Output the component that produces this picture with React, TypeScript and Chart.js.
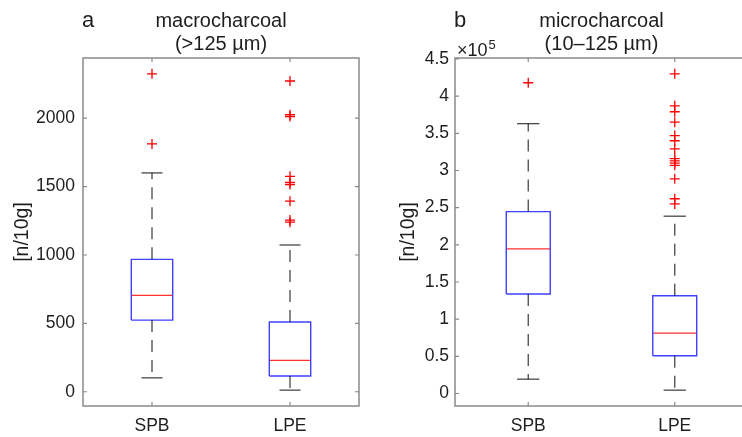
import { useEffect, useRef } from 'react';
import { Chart, registerables } from 'chart.js';

Chart.register(...registerables);

// ---------- data ----------
const categories = ['SPB', 'LPE'];

// panel a: macrocharcoal (>125 µm), n/10g
const macroWhiskerLow = [102, 12];
const macroQ1 = [524, 115];
const macroMedian = [705, 230];
const macroQ3 = [968, 510];
const macroWhiskerHigh = [1600, 1073];
const macroOutliersSPB = [2324, 1812];
const macroOutliersLPE = [2272, 2025, 2012, 1575, 1530, 1515, 1393, 1255, 1240];
const macroTicks = [0, 500, 1000, 1500, 2000];

// panel b: microcharcoal (10–125 µm), n/10g
const microWhiskerLow = [19300, 4500];
const microQ1 = [133800, 50700];
const microMedian = [194500, 81300];
const microQ3 = [244700, 131500];
const microWhiskerHigh = [363000, 238500];
const microOutliersSPB = [418000];
const microOutliersLPE = [
  430000, 387000, 379000, 365000, 347000, 340000, 329000, 316000, 313000, 310000, 307000,
  288800, 262000, 255000,
];
const microTicks = [0, 50000, 100000, 150000, 200000, 250000, 300000, 350000, 400000, 450000];

// ---------- styles ----------
const FONT = '"Liberation Sans", Arial, Helvetica, sans-serif';
const TEXT = '#1e1e1e';
const AXIS = '#8a8a8a';
const BOX = '#4040ff';
const MED = '#ff3030';
const OUT = '#ff0000';
const WHISK = 'rgba(0,0,0,0.72)';
const BOX_HALF = 0.15;
const CAP_HALF = 0.076;
const TICK_LEN = 4;

type PanelCfg = {
  letter: string;
  title: string[];
  exponent?: string;
  q1: number[];
  med: number[];
  q3: number[];
  wLo: number[];
  wHi: number[];
  outliers: number[][];
  ticks: number[];
  yMin: number;
  yMax: number;
  tickFmt: (v: number) => string;
  yAxisWidth: number;
  rightPad: number;
  tickPad: number;
  titlePad: number;
  width: number;
};

function seg(points: { x: number; y: number }[], color: string, width: number, dash: number[] = []) {
  return {
    data: points,
    showLine: true,
    borderColor: color,
    backgroundColor: color,
    borderWidth: width,
    borderDash: dash,
    pointRadius: 0,
    pointHoverRadius: 0,
    fill: false,
    tension: 0,
  };
}

function buildDatasets(c: PanelCfg) {
  const ds: any[] = [];
  categories.forEach((_, i) => {
    const x = i + 1;
    ds.push(seg([{ x, y: c.q3[i] }, { x, y: c.wHi[i] }], WHISK, 1.3, [12, 8]));
    ds.push(seg([{ x, y: c.q1[i] }, { x, y: c.wLo[i] }], WHISK, 1.3, [12, 8]));
    ds.push(seg([{ x: x - CAP_HALF, y: c.wHi[i] }, { x: x + CAP_HALF, y: c.wHi[i] }], WHISK, 1.3));
    ds.push(seg([{ x: x - CAP_HALF, y: c.wLo[i] }, { x: x + CAP_HALF, y: c.wLo[i] }], WHISK, 1.3));
    ds.push(
      seg(
        [
          { x: x - BOX_HALF, y: c.q1[i] },
          { x: x + BOX_HALF, y: c.q1[i] },
          { x: x + BOX_HALF, y: c.q3[i] },
          { x: x - BOX_HALF, y: c.q3[i] },
          { x: x - BOX_HALF, y: c.q1[i] },
        ],
        BOX,
        1.4
      )
    );
    ds.push(seg([{ x: x - BOX_HALF, y: c.med[i] }, { x: x + BOX_HALF, y: c.med[i] }], MED, 1.3));
    ds.push({
      data: c.outliers[i].map((v) => ({ x, y: v })),
      showLine: false,
      pointStyle: 'cross',
      pointRadius: 5,
      pointHoverRadius: 5,
      pointBorderWidth: 1.3,
      borderColor: OUT,
      backgroundColor: OUT,
    });
  });
  return ds;
}

function framePlugin(c: PanelCfg) {
  return {
    id: 'frameAndTitles',
    afterDraw(chart: any) {
      const { ctx, chartArea: a, scales } = chart;
      ctx.save();
      ctx.strokeStyle = AXIS;
      ctx.lineWidth = 1.5;
      const L = Math.round(a.left);
      const R = Math.round(a.right);
      const T = Math.round(a.top);
      const B = Math.round(a.bottom);
      ctx.strokeRect(L, T, R - L, B - T);
      ctx.lineWidth = 1.2;
      ctx.beginPath();
      scales.y.ticks.forEach((t: any) => {
        const y = scales.y.getPixelForValue(t.value);
        ctx.moveTo(L, y);
        ctx.lineTo(L + TICK_LEN, y);
        ctx.moveTo(R, y);
        ctx.lineTo(R - TICK_LEN, y);
      });
      scales.x.ticks.forEach((t: any) => {
        const x = scales.x.getPixelForValue(t.value);
        ctx.moveTo(x, B);
        ctx.lineTo(x, B - TICK_LEN);
        ctx.moveTo(x, T);
        ctx.lineTo(x, T + TICK_LEN);
      });
      ctx.stroke();

      ctx.fillStyle = TEXT;
      ctx.textBaseline = 'alphabetic';
      ctx.textAlign = 'left';
      ctx.font = `22px ${FONT}`;
      ctx.fillText(c.letter, a.left - 1, 26.5);
      ctx.textAlign = 'center';
      ctx.font = `20px ${FONT}`;
      const cx = (a.left + a.right) / 2;
      c.title.forEach((line, i) => ctx.fillText(line, cx, 27 + i * 23));
      if (c.exponent) {
        ctx.textAlign = 'left';
        ctx.font = `18px ${FONT}`;
        const base = '\u00d710';
        ctx.fillText(base, a.left + 2, 56);
        const w = ctx.measureText(base).width;
        ctx.font = `13px ${FONT}`;
        ctx.fillText(c.exponent, a.left + 2 + w + 1, 48.5);
      }
      ctx.restore();
    },
  };
}

function BoxPanel({ cfg, left }: { cfg: PanelCfg; left: number }) {
  const ref = useRef<HTMLCanvasElement | null>(null);
  useEffect(() => {
    if (!ref.current) return;
    const chart = new Chart(ref.current, {
      type: 'scatter',
      data: { datasets: buildDatasets(cfg) },
      options: {
        animation: false,
        responsive: false,
        maintainAspectRatio: false,
        events: [],
        layout: { padding: { top: 58, right: cfg.rightPad, left: 0, bottom: 0 } },
        plugins: { legend: { display: false }, tooltip: { enabled: false }, title: { display: false } },
        scales: {
          x: {
            type: 'linear',
            min: 0.5,
            max: 2.5,
            afterBuildTicks: (s: any) => {
              s.ticks = categories.map((_, i) => ({ value: i + 1 }));
            },
            afterFit: (s: any) => {
              s.height = 31;
            },
            ticks: {
              callback: (v: any) => categories[Math.round(Number(v)) - 1] ?? '',
              font: { family: FONT, size: 17.5 },
              color: TEXT,
              padding: 10,
              maxRotation: 0,
              autoSkip: false,
            },
            grid: { display: false, drawTicks: false },
            border: { display: false },
          },
          y: {
            type: 'linear',
            min: cfg.yMin,
            max: cfg.yMax,
            afterBuildTicks: (s: any) => {
              s.ticks = cfg.ticks.map((v) => ({ value: v }));
            },
            afterFit: (s: any) => {
              s.width = cfg.yAxisWidth;
            },
            ticks: {
              callback: (v: any) => cfg.tickFmt(Number(v)),
              font: { family: FONT, size: 17.5 },
              color: TEXT,
              padding: cfg.tickPad,
              autoSkip: false,
            },
            grid: { display: false, drawTicks: false },
            border: { display: false },
            title: {
              display: true,
              text: '[n/10g]',
              color: TEXT,
              font: { family: FONT, size: 19.5 },
              padding: { top: cfg.titlePad, bottom: 0 },
            },
          },
        },
      } as any,
      plugins: [framePlugin(cfg)],
    });
    return () => chart.destroy();
  }, [cfg]);
  return (
    <canvas
      ref={ref}
      width={cfg.width}
      height={437}
      style={{ position: 'absolute', left, top: 0, width: cfg.width, height: 437 }}
    />
  );
}

const macroCfg: PanelCfg = {
  letter: 'a',
  title: ['macrocharcoal', '(>125 \u00b5m)'],
  q1: macroQ1,
  med: macroMedian,
  q3: macroQ3,
  wLo: macroWhiskerLow,
  wHi: macroWhiskerHigh,
  outliers: [macroOutliersSPB, macroOutliersLPE],
  ticks: macroTicks,
  yMin: -104,
  yMax: 2440,
  tickFmt: (v) => String(v),
  yAxisWidth: 83,
  rightPad: 12,
  tickPad: 8,
  titlePad: 11,
  width: 371,
};

const microCfg: PanelCfg = {
  letter: 'b',
  title: ['microcharcoal', '(10\u2013125 \u00b5m)'],
  exponent: '5',
  q1: microQ1,
  med: microMedian,
  q3: microQ3,
  wLo: microWhiskerLow,
  wHi: microWhiskerHigh,
  outliers: [microOutliersSPB, microOutliersLPE],
  ticks: microTicks,
  yMin: -16800,
  yMax: 451300,
  tickFmt: (v) => String(Math.round(v / 1e4) / 10),
  yAxisWidth: 84,
  rightPad: 12,
  tickPad: 6,
  titlePad: 26,
  width: 389,
};

export default function App() {
  return (
    <div
      style={{
        position: 'fixed',
        left: 0,
        top: 0,
        width: 742,
        height: 437,
        overflow: 'hidden',
        background: '#ffffff',
      }}
    >
      <BoxPanel cfg={macroCfg} left={0} />
      <BoxPanel cfg={microCfg} left={371} />
    </div>
  );
}
